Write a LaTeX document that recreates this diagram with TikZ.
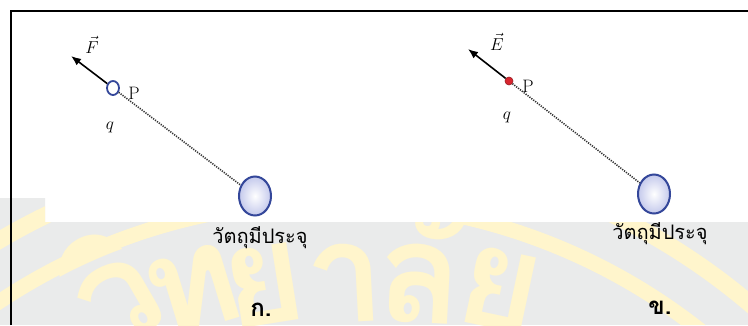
\documentclass[tikz,border=0pt]{standalone}
\usepackage{fontspec}
\newfontfamily\thaifont[Script=Thai]{Loma}
\usetikzlibrary{shapes.geometric, arrows.meta}

\definecolor{kugelblau}{HTML}{34479A}
\definecolor{kugelhell}{HTML}{C4C9EC}
\definecolor{wasser}{HTML}{FFF5CC}
\definecolor{grund}{HTML}{EAEBEB}
\definecolor{punktrot}{HTML}{D8252E}

\tikzset{
  grosskugel/.style={ellipse, minimum width=32, minimum height=39, inner sep=0,
    draw=kugelblau, line width=2, inner color=white, outer color=kugelhell},
  kleinkugel/.style={ellipse, minimum width=12, minimum height=14, inner sep=0,
    draw=kugelblau, line width=1.8, fill=white},
  ladung/.style={circle, minimum size=8, inner sep=0, draw=punktrot!70!black,
    line width=0.6, fill=punktrot},
  verbindung/.style={gray!40!black, line width=1.6, dash pattern=on 1.2pt off 1.2pt},
  kraft/.style={->, line width=1.6},
  bez/.style={font=\fontsize{18}{20}\selectfont, inner sep=0},
  thaitext/.style={font=\thaifont\fontsize{20}{22}\selectfont, inner sep=0},
  teil/.style={font=\thaifont\bfseries\fontsize{24}{26}\selectfont, inner sep=0},
  wz/.style={text=wasser, font=\thaifont\bfseries\fontsize{140}{140}\selectfont,
    inner sep=0, anchor=base}
}

\begin{document}
\begin{tikzpicture}[>={Latex[length=10pt, width=8pt]}, x=1pt, y=-1pt]
  \useasboundingbox (0,0) rectangle (748,325);

  % Wasserzeichen
  \begin{scope}
    \clip (0,222) rectangle (748,325) (0,198) rectangle (45,222);
    \fill[grund] (0,195) rectangle (748,325);
    \draw[wasser, line width=17] (330,800) circle [radius=650pt];
    \draw[wasser, line width=15] (330,800) circle [radius=598pt];
    \node[wz, rotate=30] (wz1) at (140,336) {วิ};
    \node[wz, rotate=17] (wz2) at (205,328) {ท};
    \node[wz, rotate=9] (wz3) at (270,324) {ย};
    \node[wz, rotate=3] (wz4) at (348,322) {า};
    \node[wz, rotate=-3] (wz5) at (418,323) {ลั};
    \node[wz, rotate=-12] (wz6) at (492,328) {ย};
  \end{scope}

  % Rahmen
  \draw[line width=2] (11,325) -- (11,10.5) -- (748,10.5);

  % Bild a
  \node[kleinkugel] (qa) at (113,88) {};
  \node[grosskugel] (srca) at (255,196) {};
  \coordinate (tipa) at (71,56);
  \draw[verbindung] (qa) -- (srca);
  \draw[kraft] (qa) -- (tipa);
  \node[bez] (Fa) at (92,45) {$\vec{F}$};
  \node[bez] (Pa) at (134,93) {P};
  \node[bez] (qlaba) at (110,127) {$q$};
  \node[thaitext] (texta) at (260,238) {วัตถุมีประจุ};
  \node[teil] (teila) at (261,310) {ก.};

  % Bild b
  \node[ladung] (qb) at (509,81) {};
  \node[grosskugel] (srcb) at (654,194) {};
  \coordinate (tipb) at (468,49);
  \draw[verbindung] (qb) -- (srcb);
  \draw[kraft] (qb) -- (tipb);
  \node[bez] (Eb) at (497,42) {$\vec{E}$};
  \node[bez] (Pb) at (528,86) {P};
  \node[bez] (qlabb) at (507,117) {$q$};
  \node[thaitext] (textb) at (660,234) {วัตถุมีประจุ};
  \node[teil] (teilb) at (660,308) {ข.};
\end{tikzpicture}
\end{document}
